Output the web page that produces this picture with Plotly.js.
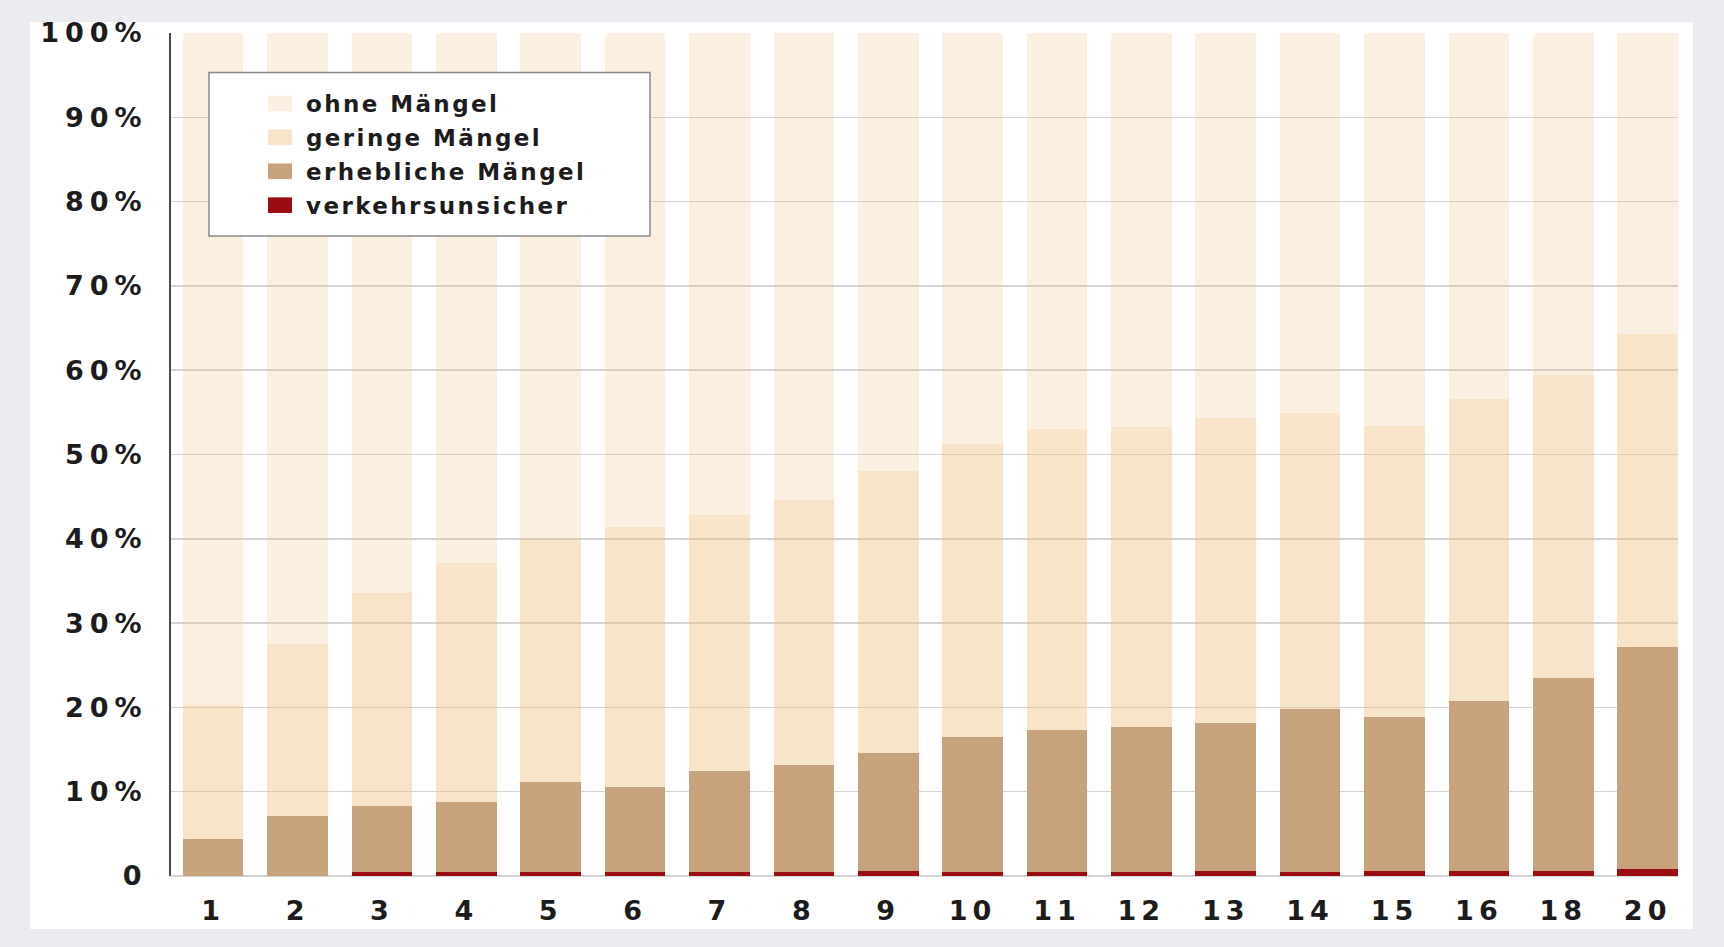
<!DOCTYPE html>
<html>
<head>
<meta charset="utf-8">
<script src="https://cdn.plot.ly/plotly-3.0.1.min.js"></script>
<style>
  html, body { margin: 0; padding: 0; background: #ebecf0; }
  #chart { width: 1724px; height: 947px; }
  .xtick text, .ytick text { letter-spacing: 5px; }
  .ytick text { letter-spacing: 6px; }
  .legendtext { letter-spacing: 2.4px; }
  .legendpoints path {
    transform-box: view-box !important;
    transform-origin: 0px 0px !important;
    transform: translate(24px, 0px) scale(2.0, 1.3) !important;
  }
</style>
</head>
<body>
<div id="chart"></div>
<script>
// Categories (x axis)
const categories = ['1','2','3','4','5','6','7','8','9','10','11','12','13','14','15','16','18','20'];

// Series values (percent, stacked segments)
const verkehrsunsicher = [0, 0, 0.5, 0.5, 0.5, 0.5, 0.5, 0.5, 0.6, 0.5, 0.5, 0.5, 0.6, 0.5, 0.6, 0.6, 0.6, 0.8];
const erheblicheMaengel = [4.4, 7.1, 7.8, 8.3, 10.6, 10.0, 11.9, 12.7, 14.0, 16.0, 16.8, 17.2, 17.5, 19.3, 18.3, 20.2, 22.9, 26.4];
const geringeMaengel = [15.9, 20.4, 25.3, 28.3, 28.9, 30.9, 30.4, 31.4, 33.5, 34.7, 35.7, 35.6, 36.2, 35.1, 34.5, 35.8, 35.9, 37.1];
const ohneMaengel = [79.7, 72.5, 66.4, 62.9, 60.0, 58.6, 57.2, 55.4, 51.9, 48.8, 47.0, 46.7, 45.7, 45.1, 46.6, 43.4, 40.6, 35.7];

// Y tick labels
const yTickVals = [0, 10, 20, 30, 40, 50, 60, 70, 80, 90, 100];
const yTickText = ['0', '10%', '20%', '30%', '40%', '50%', '60%', '70%', '80%', '90%', '100%'];

const FONT = 'DejaVu Sans, Liberation Sans, Arial, sans-serif';

function barTrace(name, values, color, group, rank) {
  return {
    type: 'bar',
    name: name,
    x: categories,
    y: values,
    legendgroup: group,
    legendrank: rank,
    marker: { color: color, line: { width: 0 } },
    hoverinfo: 'skip'
  };
}

const data = [
  barTrace('verkehrsunsicher', verkehrsunsicher, '#9b0b12', 'g4', 4),
  barTrace('erhebliche Mängel', erheblicheMaengel, '#c6a27d', 'g3', 3),
  barTrace('geringe Mängel', geringeMaengel, 'rgba(236,190,125,0.415)', 'g2', 2),
  barTrace('ohne Mängel', ohneMaengel, 'rgba(236,190,125,0.24)', 'g1', 1)
];

// pixel geometry helpers for paper coordinates
const L = 171, R = 46, T = 33, B = 71, W = 1724, H = 947;
const pw = W - L - R, ph = H - T - B;
const px = v => (v - L) / pw;
const py = v => (H - B - v) / ph;

const layout = {
  width: W,
  height: H,
  margin: { l: L, r: R, t: T, b: B, pad: 0 },
  paper_bgcolor: '#ebecf0',
  plot_bgcolor: 'rgba(0,0,0,0)',
  barmode: 'stack',
  bargap: 0.282,
  showlegend: true,
  hovermode: false,
  font: { family: FONT, color: '#1c1c1c' },
  xaxis: {
    type: 'category',
    range: [-0.5, 17.36],
    showgrid: false,
    showline: false,
    zeroline: false,
    ticks: '',
    ticklabelstandoff: 16,
    tickfont: { family: FONT, size: 27, weight: 'bold', color: '#1c1c1c' },
    fixedrange: true
  },
  yaxis: {
    range: [0, 100],
    tickvals: yTickVals,
    ticktext: yTickText,
    showgrid: true,
    gridcolor: '#d3d3d3',
    gridwidth: 1.5,
    zeroline: true,
    zerolinecolor: '#d3d3d3',
    zerolinewidth: 1.5,
    showline: true,
    linecolor: '#4a4a4a',
    linewidth: 2,
    ticks: '',
    ticklabelstandoff: 16,
    tickfont: { family: FONT, size: 27, weight: 'bold', color: '#1c1c1c' },
    fixedrange: true
  },
  legend: {
    x: px(256),
    y: py(82),
    xanchor: 'left',
    yanchor: 'top',
    bgcolor: 'rgba(0,0,0,0)',
    borderwidth: 0,
    traceorder: 'grouped',
    tracegroupgap: 1,
    itemwidth: 40,
    font: { family: FONT, size: 23, weight: 'bold', color: '#1c1c1c' }
  },
  shapes: [
    {
      type: 'rect', xref: 'paper', yref: 'paper', layer: 'below',
      x0: px(30), x1: px(1693), y0: py(929), y1: py(22),
      fillcolor: '#ffffff', line: { width: 0 }
    },
    {
      type: 'rect', xref: 'paper', yref: 'paper', layer: 'above',
      x0: px(209), x1: px(650), y0: py(236), y1: py(72.5),
      fillcolor: '#ffffff', line: { color: '#8a8a8a', width: 1.5 }
    }
  ]
};

Plotly.newPlot('chart', data, layout, { displayModeBar: false, staticPlot: true });
</script>
</body>
</html>
